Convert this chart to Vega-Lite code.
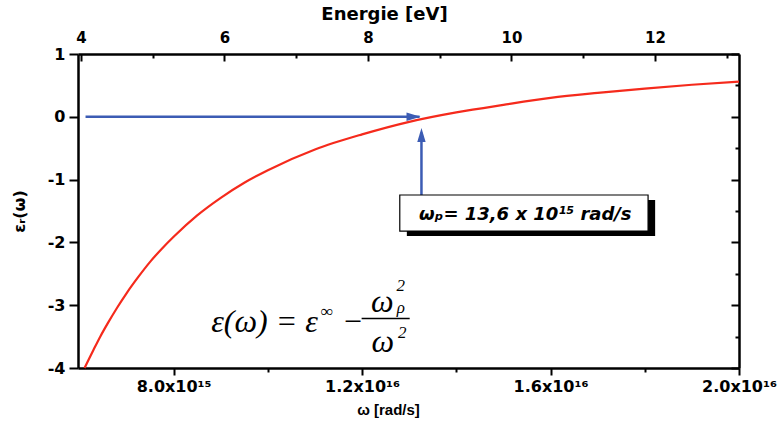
{
  "$schema": "https://vega.github.io/schema/vega-lite/v6.json",
  "width": 661,
  "height": 314,
  "autosize": {"type": "none"},
  "padding": {"left": 78, "top": 54, "right": 38, "bottom": 60},
  "background": "white",
  "config": {
    "view": {"stroke": null},
    "axis": {
      "domainColor": "black", "domainWidth": 2.5, "tickColor": "black", "tickWidth": 2,
      "labelFont": "DejaVu Sans", "labelFontWeight": "bold", "labelFontSize": 15, "labelColor": "black",
      "titleFont": "DejaVu Sans", "titleFontWeight": "bold", "titleColor": "black", "grid": false
    }
  },
  "datasets": {
    "curve": [
      {"w": 6.11e15, "eps": -4.0},
      {"w": 6.2e15, "eps": -3.86},
      {"w": 6.3e15, "eps": -3.71},
      {"w": 6.45e15, "eps": -3.49},
      {"w": 6.6e15, "eps": -3.29},
      {"w": 6.8e15, "eps": -3.04},
      {"w": 7.0e15, "eps": -2.81},
      {"w": 7.25e15, "eps": -2.55},
      {"w": 7.5e15, "eps": -2.31},
      {"w": 7.75e15, "eps": -2.10},
      {"w": 8.0e15, "eps": -1.91},
      {"w": 8.5e15, "eps": -1.57},
      {"w": 9.0e15, "eps": -1.29},
      {"w": 9.5e15, "eps": -1.05},
      {"w": 1.0e16, "eps": -0.85},
      {"w": 1.1e16, "eps": -0.52},
      {"w": 1.2e16, "eps": -0.28},
      {"w": 1.3e16, "eps": -0.08},
      {"w": 1.4e16, "eps": 0.07},
      {"w": 1.5e16, "eps": 0.19},
      {"w": 1.6e16, "eps": 0.30},
      {"w": 1.7e16, "eps": 0.38},
      {"w": 1.8e16, "eps": 0.45},
      {"w": 1.9e16, "eps": 0.51},
      {"w": 2.0e16, "eps": 0.56}
    ],
    "arrows": [
      {"w1": 6.13e15, "w2": 1.322e16, "e1": 0, "e2": 0},
      {"w1": 1.326e16, "w2": 1.326e16, "e1": -1.245, "e2": -0.25}
    ],
    "headRight": [{"w": 1.324e16, "eps": 0}],
    "headUp": [{"w": 1.326e16, "eps": -0.18}],
    "shadow": [{"w1": 1.295e16, "w2": 1.822e16, "e1": -1.325, "e2": -1.9}],
    "box": [{"w1": 1.28e16, "w2": 1.807e16, "e1": -1.245, "e2": -1.82}],
    "boxText": [{"w": 1.5465e16, "eps": -1.65, "label": "ωₚ= 13,6 x 10¹⁵ rad/s"}],
    "bigMath": [
      {"w": 9.93e15, "eps": -3.43, "label": "ε(ω) = ε"},
      {"w": 1.18e16, "eps": -3.43, "label": "−"},
      {"w": 1.243e16, "eps": -3.11, "label": "ω"},
      {"w": 1.244e16, "eps": -3.75, "label": "ω"}
    ],
    "smallMath": [
      {"w": 1.125e16, "eps": -3.19, "label": "∞"},
      {"w": 1.282e16, "eps": -2.78, "label": "2"},
      {"w": 1.282e16, "eps": -3.12, "label": "ρ"},
      {"w": 1.285e16, "eps": -3.52, "label": "2"}
    ],
    "bar": [{"w1": 1.199e16, "w2": 1.301e16, "eps": -3.21}],
    "energy": [{"E": 4}, {"E": 13}]
  },
  "layer": [
    {
      "layer": [
        {
          "data": {"name": "curve"},
          "mark": {"type": "line", "color": "#f52a1c", "strokeWidth": 2.2, "interpolate": "monotone"},
          "encoding": {
            "x": {
              "field": "w", "type": "quantitative",
              "scale": {"domain": [5.97e15, 2.0e16], "nice": false, "zero": false},
              "axis": {
                "orient": "bottom",
                "values": [8e15, 1e16, 1.2e16, 1.4e16, 1.6e16, 1.8e16, 2e16],
                "labelExpr": "round(datum.value/1e14) == 80 ? '8.0x10¹⁵' : round(datum.value/1e14) == 120 ? '1.2x10¹⁶' : round(datum.value/1e14) == 160 ? '1.6x10¹⁶' : round(datum.value/1e14) == 200 ? '2.0x10¹⁶' : ''",
                "tickSize": {"condition": {"test": "round(datum.value/1e14) % 40 != 0", "value": 4}, "value": 7},
                "labelPadding": 3,
                "labelFontSize": 16,
                "title": "ω [rad/s]",
                "titleFontSize": 15,
                "titleFontWeight": "bold",
                "titleFont": "Liberation Sans",
                "titlePadding": 8,
                "titleX": 310,
                "labelFlush": false,
                "labelOverlap": false
              }
            },
            "y": {
              "field": "eps", "type": "quantitative",
              "scale": {"domain": [-4, 1], "nice": false, "zero": false},
              "axis": {
                "orient": "left",
                "values": [-4, -3.5, -3, -2.5, -2, -1.5, -1, -0.5, 0, 0.5, 1],
                "labelExpr": "datum.value % 1 == 0 ? '' + datum.value : ''",
                "tickSize": {"condition": {"test": "datum.value % 1 != 0", "value": 4}, "value": 9},
                "labelPadding": 4,
                "labelFontSize": 16,
                "title": "εᵣ(ω)",
                "titleFontSize": 16,
                "titlePadding": 20,
                "labelFlush": false,
                "labelOverlap": false
              }
            }
          }
        },
        {
          "data": {"name": "arrows"},
          "mark": {"type": "rule", "color": "#3c5cb4", "strokeWidth": 2.5},
          "encoding": {
            "x": {"field": "w1", "type": "quantitative"},
            "x2": {"field": "w2"},
            "y": {"field": "e1", "type": "quantitative"},
            "y2": {"field": "e2"}
          }
        },
        {
          "data": {"name": "headRight"},
          "mark": {"type": "point", "shape": "M0,0L-2,-0.6L-2,0.6Z", "size": 196, "filled": true, "color": "#3c5cb4", "opacity": 1},
          "encoding": {
            "x": {"field": "w", "type": "quantitative"},
            "y": {"field": "eps", "type": "quantitative"}
          }
        },
        {
          "data": {"name": "headUp"},
          "mark": {"type": "point", "shape": "M0,0L-0.6,2L0.6,2Z", "size": 196, "filled": true, "color": "#3c5cb4", "opacity": 1},
          "encoding": {
            "x": {"field": "w", "type": "quantitative"},
            "y": {"field": "eps", "type": "quantitative"}
          }
        },
        {
          "data": {"name": "shadow"},
          "mark": {"type": "rect", "color": "black"},
          "encoding": {
            "x": {"field": "w1", "type": "quantitative"},
            "x2": {"field": "w2"},
            "y": {"field": "e1", "type": "quantitative"},
            "y2": {"field": "e2"}
          }
        },
        {
          "data": {"name": "box"},
          "mark": {"type": "rect", "fill": "white", "stroke": "black", "strokeWidth": 1.2},
          "encoding": {
            "x": {"field": "w1", "type": "quantitative"},
            "x2": {"field": "w2"},
            "y": {"field": "e1", "type": "quantitative"},
            "y2": {"field": "e2"}
          }
        },
        {
          "data": {"name": "boxText"},
          "mark": {"type": "text", "font": "DejaVu Sans", "fontWeight": "bold", "fontStyle": "italic", "fontSize": 18, "align": "center", "baseline": "alphabetic", "color": "black"},
          "encoding": {
            "x": {"field": "w", "type": "quantitative"},
            "y": {"field": "eps", "type": "quantitative"},
            "text": {"field": "label"}
          }
        },
        {
          "data": {"name": "bigMath"},
          "mark": {"type": "text", "font": "Liberation Serif", "fontStyle": "italic", "fontSize": 32, "align": "center", "baseline": "alphabetic", "color": "black"},
          "encoding": {
            "x": {"field": "w", "type": "quantitative"},
            "y": {"field": "eps", "type": "quantitative"},
            "text": {"field": "label"}
          }
        },
        {
          "data": {"name": "smallMath"},
          "mark": {"type": "text", "font": "Liberation Serif", "fontStyle": "italic", "fontSize": 17, "align": "center", "baseline": "alphabetic", "color": "black"},
          "encoding": {
            "x": {"field": "w", "type": "quantitative"},
            "y": {"field": "eps", "type": "quantitative"},
            "text": {"field": "label"}
          }
        },
        {
          "data": {"name": "bar"},
          "mark": {"type": "rule", "color": "black", "strokeWidth": 1.5},
          "encoding": {
            "x": {"field": "w1", "type": "quantitative"},
            "x2": {"field": "w2"},
            "y": {"field": "eps", "type": "quantitative"}
          }
        }
      ]
    },
    {
      "data": {"name": "energy"},
      "mark": {"type": "point", "opacity": 0},
      "encoding": {
        "x": {
          "field": "E", "type": "quantitative",
          "scale": {"domain": [3.96, 13.17], "nice": false, "zero": false},
          "axis": {
            "orient": "top",
            "values": [4, 5, 6, 7, 8, 9, 10, 11, 12, 13],
            "labelExpr": "datum.value % 2 == 0 ? '' + datum.value : ''",
            "tickSize": {"condition": {"test": "datum.value % 2 != 0", "value": -4}, "value": -7},
            "labelPadding": 16,
            "labelFontSize": 15,
            "title": "Energie [eV]",
            "titleFontSize": 18,
            "titlePadding": 4,
            "titleX": 306,
            "labelFlush": false,
            "labelOverlap": false
          }
        },
        "y": {
          "datum": 0, "type": "quantitative",
          "axis": {
            "orient": "right",
            "values": [-4, -3.5, -3, -2.5, -2, -1.5, -1, -0.5, 0, 0.5, 1],
            "labels": false,
            "tickSize": {"condition": {"test": "datum.value % 1 != 0", "value": -4}, "value": -8},
            "title": null
          }
        }
      }
    }
  ],
  "resolve": {"scale": {"x": "independent"}, "axis": {"x": "independent", "y": "independent"}}
}
